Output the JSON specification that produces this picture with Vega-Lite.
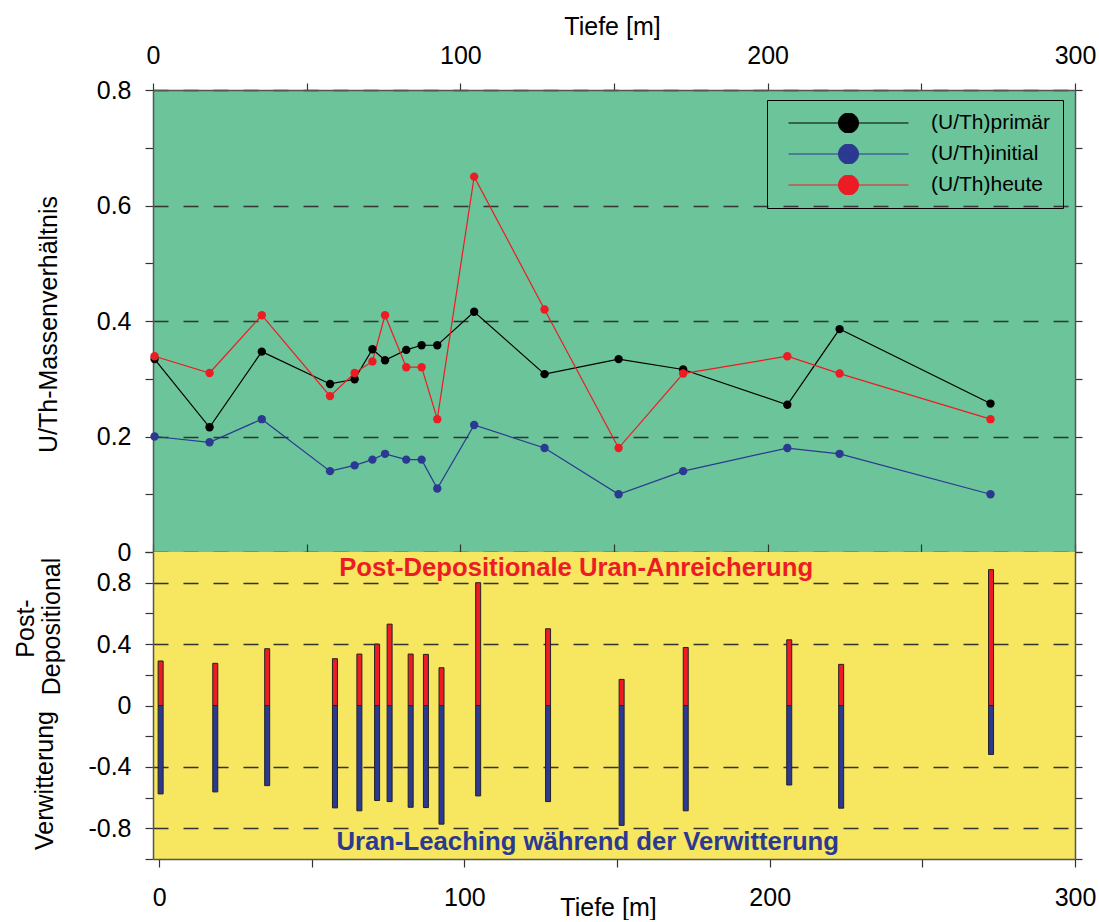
{
  "$schema": "https://vega.github.io/schema/vega-lite/v6.json",
  "background": "white",
  "padding": {"left": 13, "top": 14, "right": 5, "bottom": 0},
  "spacing": 0,
  "bounds": "flush",
  "resolve": {"scale": {"color": "independent"}, "legend": {"color": "independent"}},
  "config": {
    "font": "Liberation Sans",
    "view": {"stroke": null},
    "axis": {
      "labelFont": "Liberation Sans", "titleFont": "Liberation Sans",
      "labelFontSize": 25, "titleFontSize": 25, "titleFontWeight": "normal",
      "labelColor": "black", "titleColor": "black",
      "domainColor": "#555", "domainWidth": 1.5,
      "tickColor": "#333", "tickWidth": 1.2,
      "gridColor": "#333", "gridDash": [15, 15], "gridWidth": 1.5,
      "labelOverlap": false, "labelFlush": false
    }
  },
  "datasets": {
    "series": [
      {"depth": 0.5, "series": "(U/Th)primär", "value": 0.334},
      {"depth": 0.5, "series": "(U/Th)initial", "value": 0.20},
      {"depth": 0.5, "series": "(U/Th)heute", "value": 0.339},
      {"depth": 18.4, "series": "(U/Th)primär", "value": 0.216},
      {"depth": 18.4, "series": "(U/Th)initial", "value": 0.19},
      {"depth": 18.4, "series": "(U/Th)heute", "value": 0.31},
      {"depth": 35.4, "series": "(U/Th)primär", "value": 0.347},
      {"depth": 35.4, "series": "(U/Th)initial", "value": 0.23},
      {"depth": 35.4, "series": "(U/Th)heute", "value": 0.41},
      {"depth": 57.6, "series": "(U/Th)primär", "value": 0.291},
      {"depth": 57.6, "series": "(U/Th)initial", "value": 0.14},
      {"depth": 57.6, "series": "(U/Th)heute", "value": 0.27},
      {"depth": 65.6, "series": "(U/Th)primär", "value": 0.299},
      {"depth": 65.6, "series": "(U/Th)initial", "value": 0.15},
      {"depth": 65.6, "series": "(U/Th)heute", "value": 0.31},
      {"depth": 71.4, "series": "(U/Th)primär", "value": 0.351},
      {"depth": 71.4, "series": "(U/Th)initial", "value": 0.16},
      {"depth": 71.4, "series": "(U/Th)heute", "value": 0.33},
      {"depth": 75.5, "series": "(U/Th)primär", "value": 0.332},
      {"depth": 75.5, "series": "(U/Th)initial", "value": 0.17},
      {"depth": 75.5, "series": "(U/Th)heute", "value": 0.41},
      {"depth": 82.4, "series": "(U/Th)primär", "value": 0.350},
      {"depth": 82.4, "series": "(U/Th)initial", "value": 0.16},
      {"depth": 82.4, "series": "(U/Th)heute", "value": 0.32},
      {"depth": 87.4, "series": "(U/Th)primär", "value": 0.358},
      {"depth": 87.4, "series": "(U/Th)initial", "value": 0.16},
      {"depth": 87.4, "series": "(U/Th)heute", "value": 0.32},
      {"depth": 92.5, "series": "(U/Th)primär", "value": 0.358},
      {"depth": 92.5, "series": "(U/Th)initial", "value": 0.11},
      {"depth": 92.5, "series": "(U/Th)heute", "value": 0.23},
      {"depth": 104.5, "series": "(U/Th)primär", "value": 0.416},
      {"depth": 104.5, "series": "(U/Th)initial", "value": 0.22},
      {"depth": 104.5, "series": "(U/Th)heute", "value": 0.65},
      {"depth": 127.4, "series": "(U/Th)primär", "value": 0.308},
      {"depth": 127.4, "series": "(U/Th)initial", "value": 0.18},
      {"depth": 127.4, "series": "(U/Th)heute", "value": 0.42},
      {"depth": 151.5, "series": "(U/Th)primär", "value": 0.334},
      {"depth": 151.5, "series": "(U/Th)initial", "value": 0.10},
      {"depth": 151.5, "series": "(U/Th)heute", "value": 0.18},
      {"depth": 172.5, "series": "(U/Th)primär", "value": 0.316},
      {"depth": 172.5, "series": "(U/Th)initial", "value": 0.14},
      {"depth": 172.5, "series": "(U/Th)heute", "value": 0.309},
      {"depth": 206.4, "series": "(U/Th)primär", "value": 0.255},
      {"depth": 206.4, "series": "(U/Th)initial", "value": 0.18},
      {"depth": 206.4, "series": "(U/Th)heute", "value": 0.339},
      {"depth": 223.4, "series": "(U/Th)primär", "value": 0.386},
      {"depth": 223.4, "series": "(U/Th)initial", "value": 0.17},
      {"depth": 223.4, "series": "(U/Th)heute", "value": 0.309},
      {"depth": 272.5, "series": "(U/Th)primär", "value": 0.257},
      {"depth": 272.5, "series": "(U/Th)initial", "value": 0.10},
      {"depth": 272.5, "series": "(U/Th)heute", "value": 0.23}
    ],
    "bars": [
      {"depth": 0.5, "kind": "Anreicherung", "value": 0.29},
      {"depth": 0.5, "kind": "Leaching", "value": -0.576},
      {"depth": 18.4, "kind": "Anreicherung", "value": 0.275},
      {"depth": 18.4, "kind": "Leaching", "value": -0.563},
      {"depth": 35.4, "kind": "Anreicherung", "value": 0.37},
      {"depth": 35.4, "kind": "Leaching", "value": -0.522},
      {"depth": 57.6, "kind": "Anreicherung", "value": 0.305},
      {"depth": 57.6, "kind": "Leaching", "value": -0.667},
      {"depth": 65.6, "kind": "Anreicherung", "value": 0.335},
      {"depth": 65.6, "kind": "Leaching", "value": -0.686},
      {"depth": 71.4, "kind": "Anreicherung", "value": 0.40},
      {"depth": 71.4, "kind": "Leaching", "value": -0.619},
      {"depth": 75.5, "kind": "Anreicherung", "value": 0.53},
      {"depth": 75.5, "kind": "Leaching", "value": -0.626},
      {"depth": 82.4, "kind": "Anreicherung", "value": 0.335},
      {"depth": 82.4, "kind": "Leaching", "value": -0.663},
      {"depth": 87.4, "kind": "Anreicherung", "value": 0.333},
      {"depth": 87.4, "kind": "Leaching", "value": -0.665},
      {"depth": 92.5, "kind": "Anreicherung", "value": 0.246},
      {"depth": 92.5, "kind": "Leaching", "value": -0.773},
      {"depth": 104.5, "kind": "Anreicherung", "value": 0.80},
      {"depth": 104.5, "kind": "Leaching", "value": -0.589},
      {"depth": 127.4, "kind": "Anreicherung", "value": 0.50},
      {"depth": 127.4, "kind": "Leaching", "value": -0.626},
      {"depth": 151.5, "kind": "Anreicherung", "value": 0.17},
      {"depth": 151.5, "kind": "Leaching", "value": -0.781},
      {"depth": 172.5, "kind": "Anreicherung", "value": 0.378},
      {"depth": 172.5, "kind": "Leaching", "value": -0.686},
      {"depth": 206.4, "kind": "Anreicherung", "value": 0.428},
      {"depth": 206.4, "kind": "Leaching", "value": -0.518},
      {"depth": 223.4, "kind": "Anreicherung", "value": 0.268},
      {"depth": 223.4, "kind": "Leaching", "value": -0.669},
      {"depth": 272.5, "kind": "Anreicherung", "value": 0.885},
      {"depth": 272.5, "kind": "Leaching", "value": -0.319}
    ]
  },
  "vconcat": [
    {
      "width": 922,
      "height": 462,
      "view": {"fill": "#6BC49A", "stroke": null},
      "data": {"name": "series"},
      "layer": [
        {
          "mark": {"type": "line", "strokeWidth": 1.2},
          "encoding": {
            "x": {
              "field": "depth", "type": "quantitative",
              "scale": {"domain": [0, 300], "nice": false, "zero": false},
              "axis": {
                "orient": "top", "values": [0, 50, 100, 150, 200, 250, 300],
                "labelExpr": "datum.value % 100 == 0 ? datum.label : ''",
                "grid": false, "tickSize": 7, "labelPadding": 20, "labelBaseline": "alphabetic",
                "title": "Tiefe [m]", "titleBaseline": "alphabetic", "titleY": -56, "titleX": 459
              }
            },
            "y": {
              "field": "value", "type": "quantitative",
              "scale": {"domain": [0, 0.8], "nice": false},
              "axis": {
                "orient": "left", "values": [0, 0.1, 0.2, 0.3, 0.4, 0.5, 0.6, 0.7, 0.8],
                "format": "~g",
                "labelExpr": "round(datum.value*10) % 2 == 0 ? datum.label : ''",
                "grid": true,
                "gridOpacity": {"condition": {"test": "round(datum.value*10) % 2 == 0", "value": 1}, "value": 0},
                "tickSize": 8, "labelPadding": 14,
                "title": "U/Th-Massenverhältnis", "titleAngle": 270, "titleBaseline": "alphabetic",
                "titleX": -97, "titleY": 234
              }
            },
            "color": {
              "field": "series", "type": "nominal",
              "scale": {"domain": ["(U/Th)primär", "(U/Th)initial", "(U/Th)heute"], "range": ["#000000", "#2B3990", "#ED1C24"]},
              "legend": {
                "title": null, "orient": "none", "legendX": 614, "legendY": 10,
                "direction": "vertical",
                "symbolType": "M-1,0H1M-0.1667,0A0.1667,0.1667,0,1,0,0.1667,0A0.1667,0.1667,0,1,0,-0.1667,0Z",
                "symbolSize": 14400, "symbolStrokeWidth": 1, "symbolOffset": 8,
                "clipHeight": 20, "rowPadding": 10, "padding": 13,
                "labelOffset": 22, "labelFont": "Liberation Sans", "labelFontSize": 21, "labelColor": "black",
                "strokeColor": "black", "fillColor": null,
                "encode": {
                  "symbols": {"update": {
                    "fill": {"signal": "datum.value === '(U/Th)primär' ? '#000000' : datum.value === '(U/Th)initial' ? '#2B3990' : '#ED1C24'"},
                    "stroke": {"signal": "datum.value === '(U/Th)primär' ? '#000000' : datum.value === '(U/Th)initial' ? '#2B3990' : '#ED1C24'"},
                    "opacity": {"value": 1}, "fillOpacity": {"value": 1}
                  }}
                }
              }
            }
          }
        },
        {
          "mark": {"type": "point", "filled": true, "size": 70, "opacity": 1},
          "encoding": {
            "x": {
              "field": "depth", "type": "quantitative",
              "scale": {"domain": [0, 300], "nice": false, "zero": false},
              "axis": {"orient": "bottom", "values": [0, 50, 100, 150, 200, 250, 300], "labels": false, "title": null, "grid": false, "domain": false, "tickSize": 8, "offset": -8}
            },
            "y": {
              "field": "value", "type": "quantitative",
              "scale": {"domain": [0, 0.8], "nice": false},
              "axis": {
                "orient": "right", "values": [0, 0.1, 0.2, 0.3, 0.4, 0.5, 0.6, 0.7, 0.8], "labels": false, "grid": false, "tickSize": 7,
                "title": "Post-", "titleAngle": 270, "titleBaseline": "alphabetic", "titleAlign": "center",
                "titleX": -1042, "titleY": 538
              }
            },
            "color": {
              "field": "series", "type": "nominal",
              "scale": {"domain": ["(U/Th)primär", "(U/Th)initial", "(U/Th)heute"], "range": ["#000000", "#2B3990", "#ED1C24"]}
            }
          }
        }
      ],
      "resolve": {"axis": {"x": "independent", "y": "independent"}}
    },
    {
      "width": 922,
      "height": 307,
      "view": {"fill": "#F6E660", "stroke": null},
      "layer": [
        {
          "data": {"name": "bars"},
          "mark": {"type": "bar", "size": 5, "stroke": "#222", "strokeWidth": 1},
          "encoding": {
            "x": {
              "field": "depth", "type": "quantitative",
              "scale": {"domain": [-2, 300], "nice": false, "zero": false, "padding": 0},
              "axis": {
                "orient": "bottom", "values": [0, 50, 100, 150, 200, 250, 300],
                "labelExpr": "datum.value % 100 == 0 ? datum.label : ''",
                "grid": false, "tickSize": 8, "labelPadding": 18,
                "title": "Tiefe [m]", "titleBaseline": "alphabetic", "titleY": 56, "titleX": 455
              }
            },
            "y": {
              "field": "value", "type": "quantitative",
              "scale": {"domain": [-1, 1], "nice": false},
              "axis": {
                "orient": "left", "values": [-1, -0.8, -0.6, -0.4, -0.2, 0, 0.2, 0.4, 0.6, 0.8, 1],
                "labelExpr": "(round(datum.value*10) % 4 == 0 && abs(datum.value) < 0.95) ? replace(format(datum.value, '~g'), '\u2212', '-') : ''",
                "grid": true,
                "gridOpacity": {"condition": {"test": "round(datum.value*10) % 4 == 0 && abs(datum.value) < 0.95 && datum.value != 0", "value": 1}, "value": 0},
                "tickSize": 8, "labelPadding": 14,
                "title": "Verwitterung", "titleAngle": 270, "titleBaseline": "alphabetic",
                "titleX": -101, "titleY": 228
              }
            },
            "color": {
              "field": "kind", "type": "nominal",
              "scale": {"domain": ["Anreicherung", "Leaching"], "range": ["#ED1C24", "#2B3990"]},
              "legend": null
            }
          }
        },
        {
          "mark": {"type": "rule", "color": "black", "strokeWidth": 1.5},
          "encoding": {
            "y": {
              "datum": 0, "type": "quantitative",
              "axis": {
                "orient": "right", "values": [-1, -0.8, -0.6, -0.4, -0.2, 0, 0.2, 0.4, 0.6, 0.8, 1],
                "labels": false, "grid": false, "tickSize": 7,
                "title": "Depositional", "titleAngle": 270, "titleBaseline": "alphabetic",
                "titleAlign": "center",
                "titleX": -1016, "titleY": 74
              }
            }
          }
        },
        {
          "data": {"values": [{}]},
          "mark": {"type": "text", "text": "Post-Depositionale Uran-Anreicherung", "font": "Liberation Sans", "fontSize": 25.7, "fontWeight": "bold", "fill": "#ED1C24", "align": "center", "baseline": "alphabetic"},
          "encoding": {
            "x": {"datum": 136.6, "type": "quantitative", "axis": null},
            "y": {"datum": 0.842, "type": "quantitative", "axis": null}
          }
        },
        {
          "data": {"values": [{}]},
          "mark": {"type": "text", "text": "Uran-Leaching während der Verwitterung", "font": "Liberation Sans", "fontSize": 25.7, "fontWeight": "bold", "fill": "#2B3990", "align": "center", "baseline": "alphabetic"},
          "encoding": {
            "x": {"datum": 140.4, "type": "quantitative", "axis": null},
            "y": {"datum": -0.94, "type": "quantitative", "axis": null}
          }
        }
      ],
      "resolve": {"axis": {"x": "independent", "y": "independent"}}
    }
  ]
}
